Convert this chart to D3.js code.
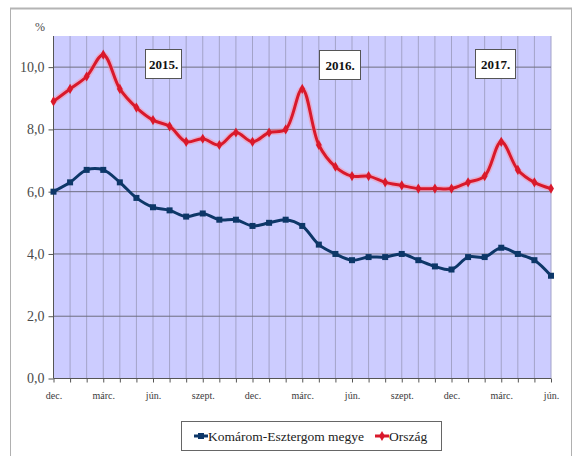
<!DOCTYPE html>
<html>
<head>
<meta charset="utf-8">
<script src="https://cdn.jsdelivr.net/npm/d3@7"></script>
<style>
  html, body { margin: 0; padding: 0; background: #fff; }
  svg { display: block; }
</style>
</head>
<body>
<svg id="chart" width="577" height="456"></svg>
<script>
// Monthly unemployment rate, Dec 2014 – Jun 2017 (%)
const months = [
  "2014-12","2015-01","2015-02","2015-03","2015-04","2015-05","2015-06","2015-07","2015-08","2015-09","2015-10","2015-11",
  "2015-12","2016-01","2016-02","2016-03","2016-04","2016-05","2016-06","2016-07","2016-08","2016-09","2016-10","2016-11",
  "2016-12","2017-01","2017-02","2017-03","2017-04","2017-05","2017-06"
];
const komarom = [6.0, 6.3, 6.7, 6.7, 6.3, 5.8, 5.5, 5.4, 5.2, 5.3, 5.1, 5.1,
                 4.9, 5.0, 5.1, 4.9, 4.3, 4.0, 3.8, 3.9, 3.9, 4.0, 3.8, 3.6,
                 3.5, 3.9, 3.9, 4.2, 4.0, 3.8, 3.3];
const orszag  = [8.9, 9.3, 9.7, 10.4, 9.3, 8.7, 8.3, 8.1, 7.6, 7.7, 7.5, 7.9,
                 7.6, 7.9, 8.0, 9.3, 7.5, 6.8, 6.5, 6.5, 6.3, 6.2, 6.1, 6.1,
                 6.1, 6.3, 6.5, 7.6, 6.7, 6.3, 6.1];
const xTickLabels = ["dec.","márc.","jún.","szept.","dec.","márc.","jún.","szept.","dec.","márc.","jún."];
const yTicks = [0, 2, 4, 6, 8, 10];
const yearLabels = ["2015.", "2016.", "2017."];
const seriesNames = ["Komárom-Esztergom megye", "Ország"];

const FONT = "\"Liberation Serif\"";
const svg = d3.select("#chart");
const m = { left: 53.5, right: 551, top: 36, bottom: 378.5 };

const x = d3.scalePoint().domain(months).range([m.left, m.right]);
const y = d3.scaleLinear().domain([0, 11]).range([m.bottom, m.top]);

// outer frame
svg.append("rect").attr("x", 10.5).attr("y", 8.5).attr("width", 561).attr("height", 460)
  .attr("fill", "none").attr("stroke", "#b0b0b0").attr("stroke-width", 1);
svg.append("line").attr("x1", 10).attr("x2", 572).attr("y1", 8.5).attr("y2", 8.5)
  .attr("stroke", "#b4b4b4").attr("stroke-width", 2);

// plot background
svg.append("rect").attr("x", m.left).attr("y", m.top)
  .attr("width", m.right - m.left).attr("height", m.bottom - m.top)
  .attr("fill", "#ccccff");

// vertical month gridlines
svg.append("g").selectAll("line").data(months.slice(1)).join("line")
  .attr("x1", d => x(d)).attr("x2", d => x(d))
  .attr("y1", m.top).attr("y2", m.bottom)
  .attr("stroke", "#a3a3c8").attr("stroke-width", 1);

// horizontal gridlines
svg.append("g").selectAll("line").data(yTicks.filter(v => v > 0)).join("line")
  .attr("x1", m.left).attr("x2", m.right)
  .attr("y1", d => y(d)).attr("y2", d => y(d))
  .attr("stroke", "#6e6e80").attr("stroke-width", 1);

// y axis
const yAxis = d3.axisLeft(y).tickValues(yTicks)
  .tickFormat(d => d3.format(".1f")(d).replace(".", ","))
  .tickSize(5).tickPadding(4);
const gy = svg.append("g").attr("transform", `translate(${m.left},0)`).call(yAxis);
gy.attr("font-family", null);
gy.select(".domain").attr("stroke", "#555").attr("d", `M0,${m.top}V${m.bottom}`);
gy.selectAll(".tick line").attr("stroke", "#555");
gy.selectAll("text").style("font-family", FONT)
  .attr("font-size", 14).attr("fill", "#4a4a4a");

// x axis: a tick for every month, label every third
const xAxis = d3.axisBottom(x).tickSize(4).tickPadding(9)
  .tickFormat((d, i) => i % 3 === 0 ? xTickLabels[i / 3] : "");
const gx = svg.append("g").attr("transform", `translate(0,${m.bottom})`).call(xAxis);
gx.attr("font-family", null);
gx.select(".domain").attr("stroke", "#555").attr("d", `M${m.left},0H${m.right}`);
gx.selectAll(".tick line").attr("stroke", "#555");
gx.selectAll("text").style("font-family", FONT)
  .attr("font-size", 10).attr("fill", "#3a3a3a");

// unit label
svg.append("text").attr("x", 40).attr("y", 31).attr("text-anchor", "middle")
  .style("font-family", FONT)
  .attr("font-size", 12).attr("fill", "#4a4a4a").text("%");

// series lines
const line = d3.line().x((d, i) => x(months[i])).y(d => y(d)).curve(d3.curveCatmullRom.alpha(0.5));

// soft halo under the national line
svg.append("path").datum(orszag).attr("d", line).attr("fill", "none")
  .attr("stroke", "#ff8a96").attr("stroke-opacity", 0.45).attr("stroke-width", 6);
svg.append("path").datum(orszag).attr("d", line).attr("fill", "none")
  .attr("stroke", "#d9192b").attr("stroke-width", 3).attr("stroke-linejoin", "round");
svg.append("path").datum(komarom).attr("d", line).attr("fill", "none")
  .attr("stroke", "#0d3768").attr("stroke-width", 3).attr("stroke-linejoin", "round");

// markers
svg.append("g").selectAll("path").data(orszag).join("path")
  .attr("transform", (d, i) => `translate(${x(months[i])},${y(d)})`)
  .attr("d", d3.symbol(d3.symbolDiamond, 30)).attr("fill", "#d9192b");
svg.append("g").selectAll("rect").data(komarom).join("rect")
  .attr("x", (d, i) => x(months[i]) - 3).attr("y", d => y(d) - 3)
  .attr("width", 6).attr("height", 6).attr("fill", "#0d3768");

// year boxes
const yearBoxes = [
  { x: 145.5, y: 49.5, w: 36, h: 29 },
  { x: 319.5, y: 50.5, w: 41, h: 29 },
  { x: 475.5, y: 49.5, w: 40, h: 29 }
];
yearLabels.forEach((t, i) => {
  const b = yearBoxes[i];
  svg.append("rect").attr("x", b.x).attr("y", b.y).attr("width", b.w).attr("height", b.h)
    .attr("fill", "#fff").attr("stroke", "#555").attr("stroke-width", 1);
  svg.append("text").attr("x", b.x + b.w / 2).attr("y", b.y + b.h / 2 + 4.5)
    .attr("text-anchor", "middle")
    .style("font-family", FONT)
    .attr("font-weight", "bold").attr("font-size", 13).attr("fill", "#111").text(t);
});

// legend
const lg = svg.append("g");
lg.append("rect").attr("x", 181.5).attr("y", 421.5).attr("width", 260).attr("height", 29)
  .attr("fill", "#fff").attr("stroke", "#666").attr("stroke-width", 1);
const legendItems = [
  { name: seriesNames[0], color: "#0d3768", x: 194, sym: "square" },
  { name: seriesNames[1], color: "#d9192b", x: 375, sym: "diamond" }
];
legendItems.forEach(it => {
  lg.append("line").attr("x1", it.x).attr("x2", it.x + 14).attr("y1", 436).attr("y2", 436)
    .attr("stroke", it.color).attr("stroke-width", 3);
  if (it.sym === "square") {
    lg.append("rect").attr("x", it.x + 4).attr("y", 433).attr("width", 6).attr("height", 6).attr("fill", it.color);
  } else {
    lg.append("path").attr("transform", `translate(${it.x + 7},436)`)
      .attr("d", d3.symbol(d3.symbolDiamond, 30)).attr("fill", it.color);
  }
  lg.append("text").attr("x", it.x + 14).attr("y", 441)
    .style("font-family", FONT)
    .attr("font-size", 13.5).attr("fill", "#222").text(it.name);
});
</script>
</body>
</html>
